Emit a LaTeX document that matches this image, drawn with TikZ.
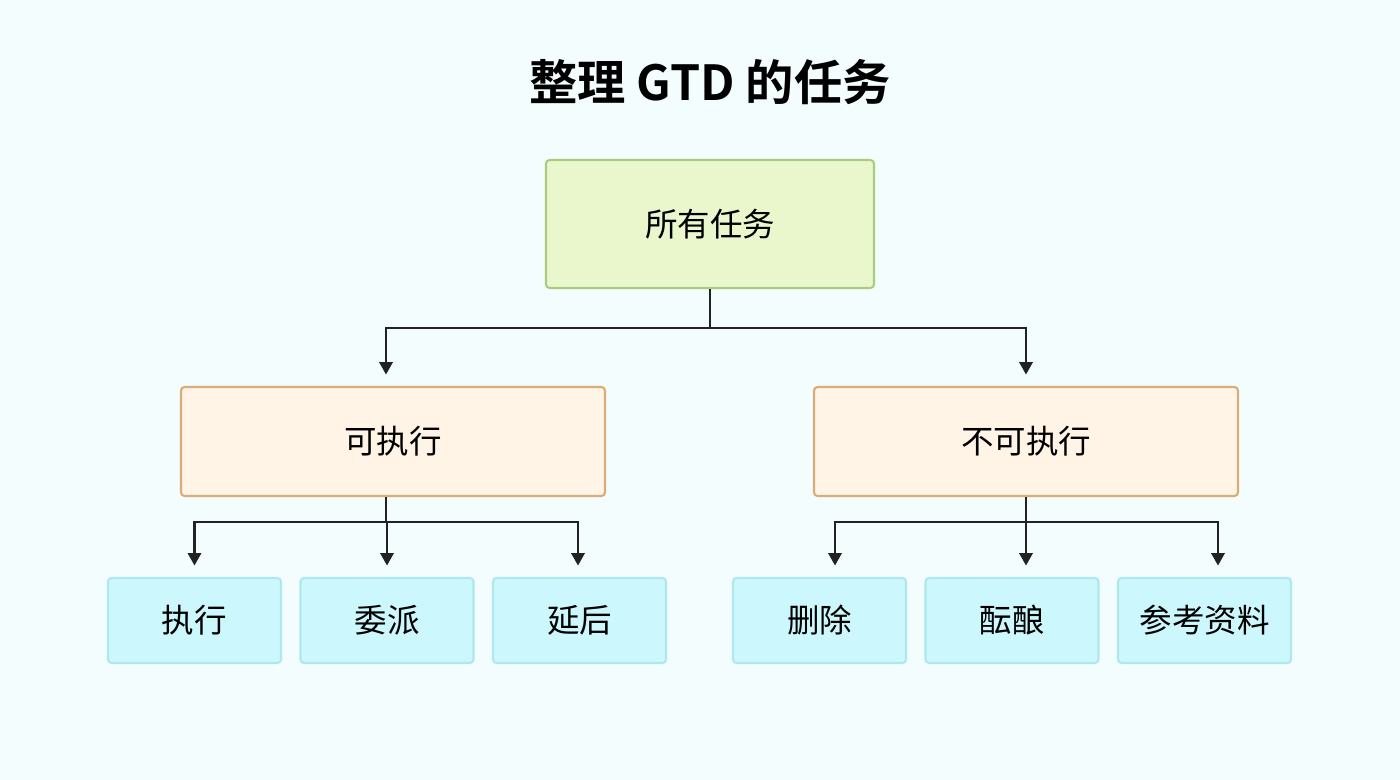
\documentclass[tikz,border=0pt]{standalone}
\usepackage{fontspec}
\setmainfont{Noto Sans CJK SC}[BoldFont=Noto Sans CJK SC Bold]
\usetikzlibrary{arrows.meta}
\definecolor{bgcol}{HTML}{F3FDFD}
\definecolor{rootfill}{HTML}{EAF7CC}
\definecolor{rootline}{HTML}{A9CC7F}
\definecolor{midfill}{HTML}{FFF4E6}
\definecolor{midline}{HTML}{D9AC78}
\definecolor{leaffill}{HTML}{CCF7FC}
\definecolor{leafline}{HTML}{ADE8EF}
\definecolor{linecol}{HTML}{222222}
\tikzset{
  box/.style={draw, line width=1.2pt, rounded corners=2pt, font=\fontsize{18.5}{20}\selectfont, inner sep=0pt},
  rootbox/.style={box, fill=rootfill, draw=rootline, minimum width=6.56cm, minimum height=2.56cm},
  midbox/.style={box, fill=midfill, draw=midline, minimum width=8.48cm, minimum height=2.18cm},
  leafbox/.style={box, fill=leaffill, draw=leafline, minimum width=3.46cm, minimum height=1.7cm},
  arr/.style={-{Triangle[length=7pt,width=7.5pt]}, line width=1.3pt, draw=linecol, shorten >=6.5pt}
}
\begin{document}
\begin{tikzpicture}[x=0.02cm, y=-0.02cm]
      \fill[bgcol] (0,0) rectangle (1400,780);
      \useasboundingbox (0,0) rectangle (1400,780);
      \node[font=\fontsize{27.5}{30}\selectfont\bfseries] (title) at (710,82) {整理 GTD 的任务};
      % level 1
      \node[rootbox] (root) at (710,224) {所有任务};
      % level 2
      \node[midbox] (exe)    at (393,441.5)  {可执行};
      \node[midbox] (nonexe) at (1026,441.5) {不可执行};
      % level 3
      \node[leafbox] (do)        at (194.5,620.5)  {执行};
      \node[leafbox] (delegate)  at (387,620.5)    {委派};
      \node[leafbox] (defer)     at (579.5,620.5)  {延后};
      \node[leafbox] (trash)     at (819.5,620.5)  {删除};
      \node[leafbox] (incubate)  at (1012,620.5)   {酝酿};
      \node[leafbox] (reference) at (1204.5,620.5) {参考资料};
      % connectors
      \draw[arr] (root.south) -- ++(0,39) -| ([xshift=-0.14cm]exe.north);
      \draw[arr] (root.south) -- ++(0,39) -| (nonexe.north);
      \draw[arr] ([xshift=-0.14cm]exe.south) -- ++(0,25) -| (do.north);
      \draw[arr] ([xshift=-0.14cm]exe.south) -- ++(0,25) -| (delegate.north);
      \draw[arr] ([xshift=-0.14cm]exe.south) -- ++(0,25) -| ([xshift=-0.03cm]defer.north);
      \draw[arr] (nonexe.south) -- ++(0,25) -| ([xshift=0.31cm]trash.north);
      \draw[arr] (nonexe.south) -- ++(0,25) -| ([xshift=0.28cm]incubate.north);
      \draw[arr] (nonexe.south) -- ++(0,25) -| ([xshift=0.27cm]reference.north);
\end{tikzpicture}
\end{document}
